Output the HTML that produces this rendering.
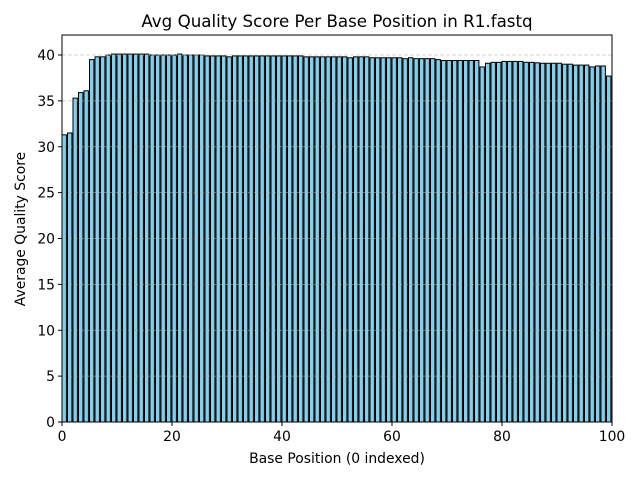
<!DOCTYPE html>
<html><head><meta charset="utf-8"><style>
body{margin:0;background:#fff;}
svg{display:block;font-family:"DejaVu Sans","Liberation Sans",sans-serif;}
</style></head><body>
<svg id="chart" width="640" height="480">
<rect width="640" height="480" fill="#fff"/>
<g id="bars"></g>
<g id="grid"></g>
<g id="axes"></g>
<text x="337" y="27" font-size="16.7" text-anchor="middle">Avg Quality Score Per Base Position in R1.fastq</text>
<text x="337" y="463" font-size="13.9" text-anchor="middle">Base Position (0 indexed)</text>
<text x="25" y="229" font-size="13.9" text-anchor="middle" transform="rotate(-90 25 229)">Average Quality Score</text>
</svg>
<script>
const values = [31.3,31.5,35.3,35.9,36.1,39.5,39.8,39.8,40.0,40.1,
40.1,40.1,40.1,40.1,40.1,40.1,40.0,40.0,40.0,40.0,
40.0,40.1,40.0,40.0,40.0,40.0,39.9,39.9,39.9,39.9,
39.8,39.9,39.9,39.9,39.9,39.9,39.9,39.9,39.9,39.9,
39.9,39.9,39.9,39.9,39.8,39.8,39.8,39.8,39.8,39.8,
39.8,39.8,39.7,39.8,39.8,39.8,39.7,39.7,39.7,39.7,
39.7,39.7,39.6,39.7,39.6,39.6,39.6,39.6,39.5,39.4,
39.4,39.4,39.4,39.4,39.4,39.4,38.7,39.1,39.2,39.2,
39.3,39.3,39.3,39.3,39.2,39.2,39.15,39.1,39.1,39.1,
39.1,39.0,39.0,38.9,38.9,38.9,38.7,38.8,38.8,37.7];
const xTicks = [0,20,40,60,80,100];
const yTicks = [0,5,10,15,20,25,30,35,40];
const X0=62,X1=612,Y0=422,YT=35;
const xs = v => X0 + v*(X1-X0)/100;
const ys = v => Y0 - v*(Y0-55)/40;
const NS="http://www.w3.org/2000/svg";
function mk(tag, attrs, parent){const e=document.createElementNS(NS,tag);for(const k in attrs)e.setAttribute(k,attrs[k]);parent.appendChild(e);return e;}
const grid=document.getElementById('grid'),bars=document.getElementById('bars'),axes=document.getElementById('axes');
yTicks.forEach(t=>{
  const g=mk('line',{x1:X0,x2:X1,y1:ys(t),y2:ys(t),stroke:'#b0b0b0','stroke-opacity':0.7,'stroke-dasharray':'4,2','stroke-width':0.8},grid);
  
  
  const tk=mk('line',{x1:X0-4,x2:X0,y1:ys(t),y2:ys(t),stroke:'#000'},axes);
  
  
  const tx=mk('text',{x:X0-7,y:ys(t)+5,'font-size':13.9,'text-anchor':'end'},axes);
  tx.textContent=t;
  
  
});
values.forEach((v,i)=>{
  const r=mk('rect',{x:xs(i),y:ys(v),width:xs(i+0.8)-xs(i),height:Y0-ys(v),fill:'#87ceeb',stroke:'#000','stroke-width':1},bars);
  
  
});
xTicks.forEach(t=>{
  const tk=mk('line',{x1:xs(t),x2:xs(t),y1:Y0,y2:Y0+4,stroke:'#000'},axes);
  
  
  const tx=mk('text',{x:xs(t),y:Y0+19,'font-size':13.9,'text-anchor':'middle'},axes);
  tx.textContent=t;
  
  
});
const frame=mk('rect',{x:X0,y:YT,width:X1-X0,height:Y0-YT,fill:'none',stroke:'#000','stroke-width':1},axes);


</script>
</body></html>
